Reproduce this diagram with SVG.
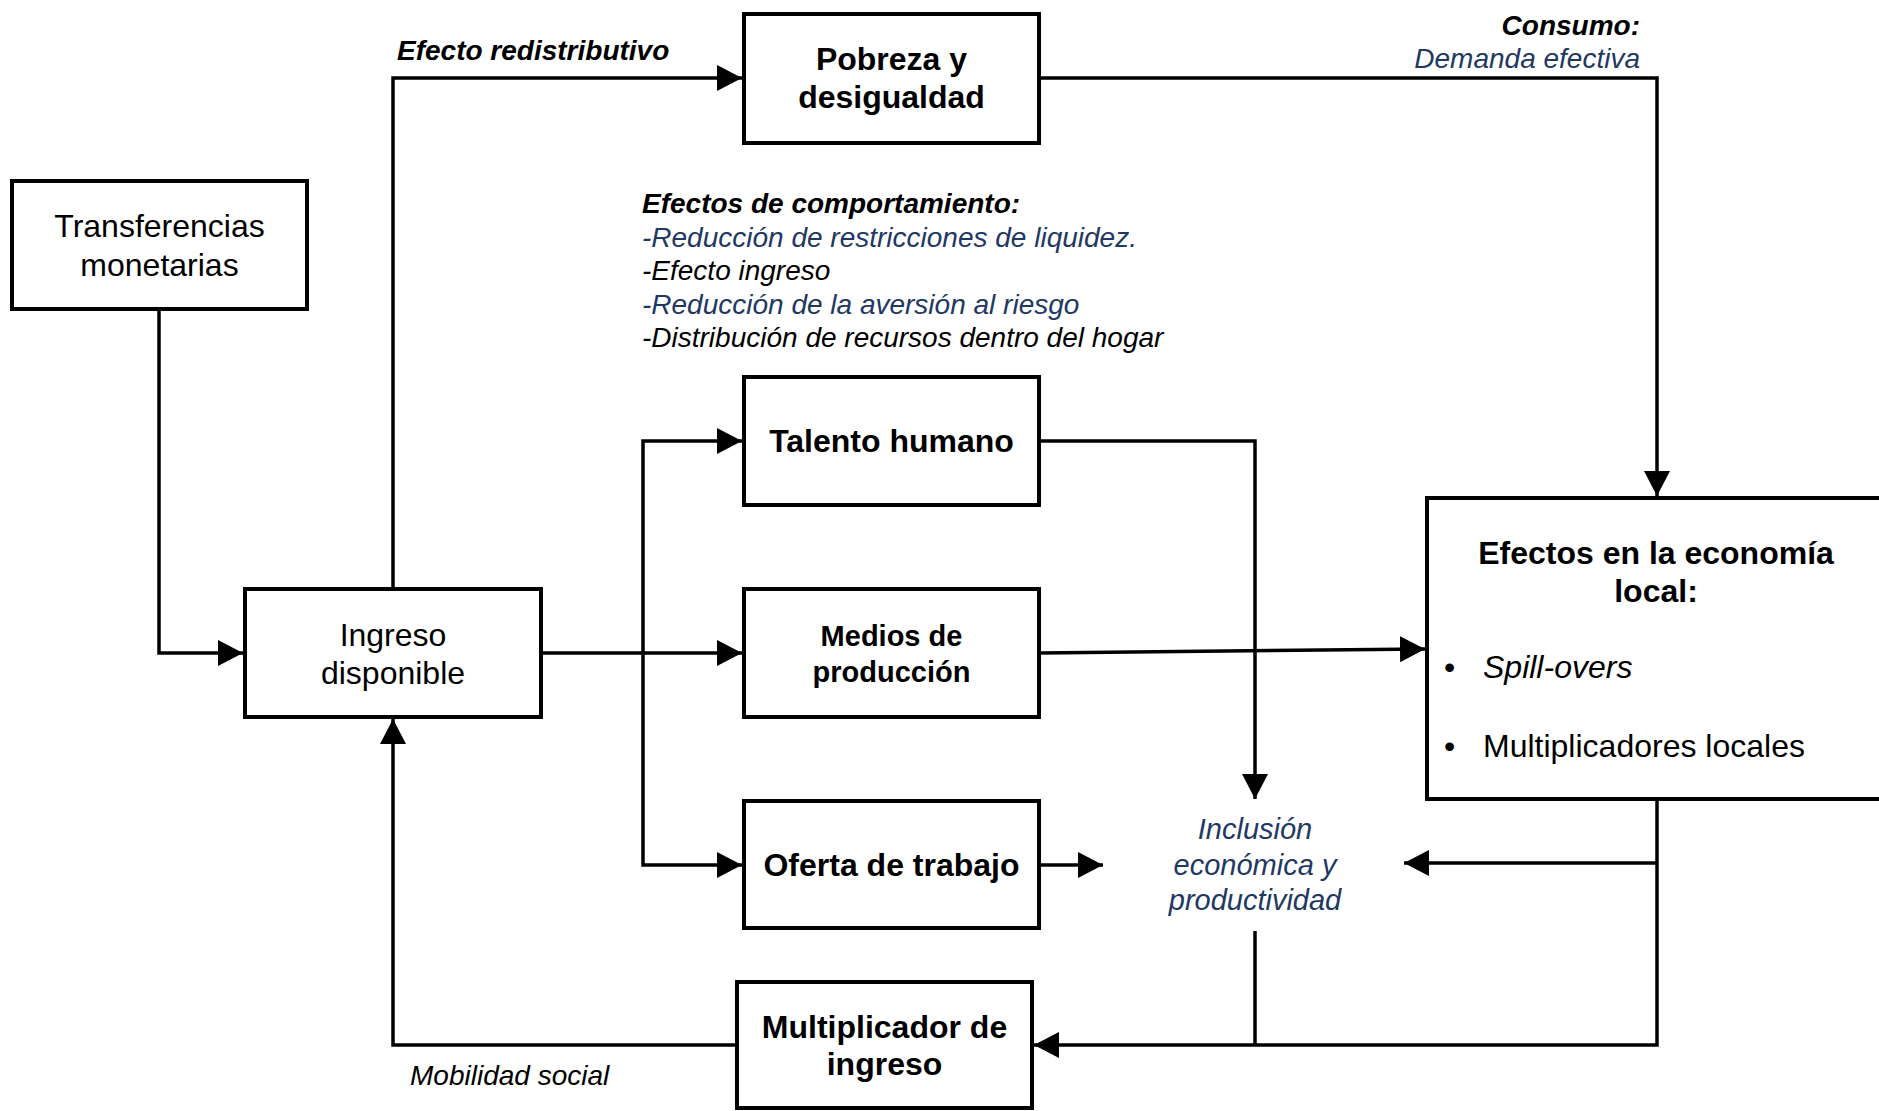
<svg xmlns="http://www.w3.org/2000/svg" width="1879" height="1111" viewBox="0 0 1879 1111">
<style>
.box{fill:#fff;stroke:#000;stroke-width:4}
.ln{fill:none;stroke:#000;stroke-width:3.5}
.t{font-family:"Liberation Sans",Arial,sans-serif;fill:#000}
.reg{font-size:32px}
.b{font-size:32px;font-weight:bold}
.lab{font-size:28px;font-style:italic}
.bi{font-size:28px;font-style:italic;font-weight:bold}
.navy{fill:#1F3864}
</style>
<defs>
<marker id="ah" markerUnits="userSpaceOnUse" markerWidth="26" markerHeight="26" refX="25" refY="13" orient="auto">
<path d="M0,0 L25,13 L0,26 z" fill="#000"/>
</marker>
</defs>
<rect width="1879" height="1111" fill="#fff"/>
<g id="connectors">
<path class="ln" d="M159,309 V653 H243" marker-end="url(#ah)"/>
<path class="ln" d="M393,589 V78 H742" marker-end="url(#ah)"/>
<path class="ln" d="M541,653 H742" marker-end="url(#ah)"/>
<path class="ln" d="M643,653 V441 H742" marker-end="url(#ah)"/>
<path class="ln" d="M643,653 V865 H742" marker-end="url(#ah)"/>
<path class="ln" d="M1039,78 H1657 V496" marker-end="url(#ah)"/>
<path class="ln" d="M1039,441 H1255 V799" marker-end="url(#ah)"/>
<path class="ln" d="M1039,653 L1425,649" marker-end="url(#ah)"/>
<path class="ln" d="M1039,865 H1103" marker-end="url(#ah)"/>
<path class="ln" d="M1657,799 V1045 H1034" marker-end="url(#ah)"/>
<path class="ln" d="M1657,863 H1404" marker-end="url(#ah)"/>
<path class="ln" d="M1255,931 V1045"/>
<path class="ln" d="M737,1045 H393 V719" marker-end="url(#ah)"/>
</g>
<g id="transferencias">
<rect class="box" x="12" y="181" width="295" height="128"/>
<text class="t reg" text-anchor="middle"><tspan x="159.5" y="237">Transferencias</tspan><tspan x="159.5" y="276">monetarias</tspan></text>
</g>
<g id="ingreso">
<rect class="box" x="245" y="589" width="296" height="128"/>
<text class="t reg" text-anchor="middle"><tspan x="393" y="646">Ingreso</tspan><tspan x="393" y="684">disponible</tspan></text>
</g>
<g id="pobreza">
<rect class="box" x="744" y="14" width="295" height="129"/>
<text class="t b" text-anchor="middle"><tspan x="891.5" y="70">Pobreza y</tspan><tspan x="891.5" y="108">desigualdad</tspan></text>
</g>
<g id="talento">
<rect class="box" x="744" y="377" width="295" height="128"/>
<text class="t b" text-anchor="middle" x="891.5" y="452">Talento humano</text>
</g>
<g id="medios">
<rect class="box" x="744" y="589" width="295" height="128"/>
<text class="t b" text-anchor="middle" style="font-size:29px"><tspan x="891.5" y="646">Medios de</tspan><tspan x="891.5" y="682">producción</tspan></text>
</g>
<g id="oferta">
<rect class="box" x="744" y="801" width="295" height="127"/>
<text class="t b" text-anchor="middle" x="891.5" y="876">Oferta de trabajo</text>
</g>
<g id="multiplicador">
<rect class="box" x="737" y="982" width="295" height="126"/>
<text class="t b" text-anchor="middle"><tspan x="884.5" y="1038">Multiplicador de</tspan><tspan x="884.5" y="1075">ingreso</tspan></text>
</g>
<g id="efectos">
<rect class="box" x="1427" y="498" width="480" height="301"/>
<text class="t b" text-anchor="middle"><tspan x="1656" y="564">Efectos en la economía</tspan><tspan x="1656" y="602">local:</tspan></text>
<text class="t reg" x="1444" y="678">•</text>
<text class="t reg" x="1483" y="678" font-style="italic">Spill-overs</text>
<text class="t reg" x="1444" y="757">•</text>
<text class="t reg" x="1483" y="757">Multiplicadores locales</text>
</g>
<g id="inclusion">
<text class="t lab navy" text-anchor="middle" style="font-size:29px"><tspan x="1255" y="839">Inclusión</tspan><tspan x="1255" y="875">económica y</tspan><tspan x="1255" y="910">productividad</tspan></text>
</g>
<g id="labels">
<text class="t bi" x="397" y="60">Efecto redistributivo</text>
<text class="t bi" x="1640" y="35" text-anchor="end">Consumo:</text>
<text class="t lab navy" x="1640" y="68" text-anchor="end">Demanda efectiva</text>
<text class="t bi" x="642" y="213">Efectos de comportamiento:</text>
<text class="t lab navy" x="642" y="247">-Reducción de restricciones de liquidez.</text>
<text class="t lab" x="642" y="280">-Efecto ingreso</text>
<text class="t lab navy" x="642" y="314">-Reducción de la aversión al riesgo</text>
<text class="t lab" x="642" y="347">-Distribución de recursos dentro del hogar</text>
<text class="t lab" x="410" y="1085">Mobilidad social</text>
</g>
</svg>
